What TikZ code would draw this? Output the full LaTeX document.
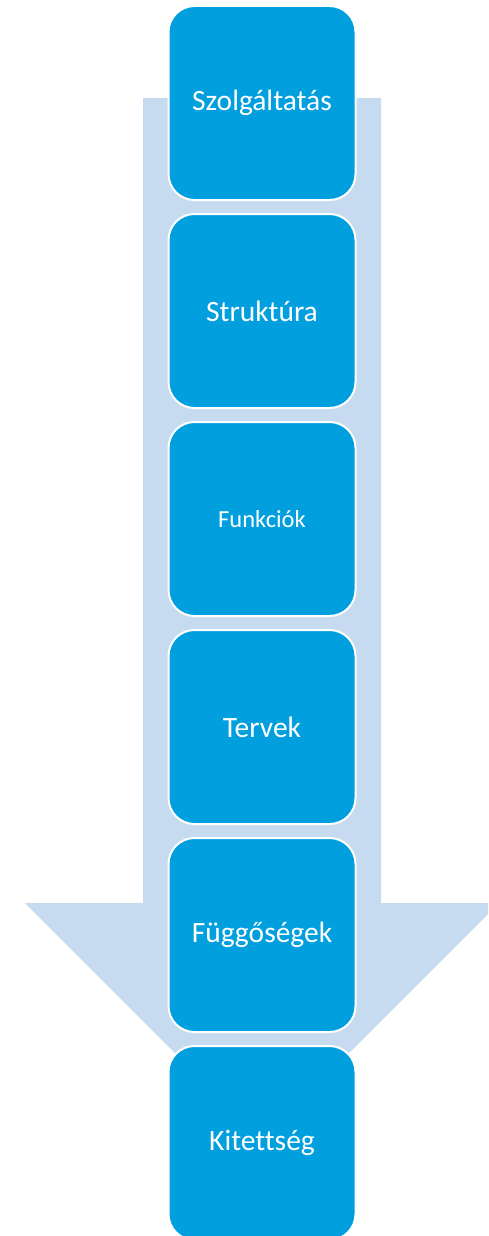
\documentclass[tikz,border=0pt]{standalone}
\usepackage{fontspec}
\setmainfont{Carlito}[Ligatures=NoCommon]
\definecolor{boxblue}{RGB}{2,159,223}
\definecolor{arrowblue}{RGB}{198,219,239}
\tikzset{
  stagebox/.style={draw=white, line width=2pt, fill=boxblue, rounded corners=26pt,
    minimum width=187pt, minimum height=194pt, inner sep=0pt,
    text=white, font=\fontsize{29.5}{34}\selectfont},
  bigarrow/.style={fill=arrowblue}
}
\begin{document}
\begin{tikzpicture}[x=1pt,y=-1pt]
\useasboundingbox (0,0) rectangle (488,1236);
\clip (0,0) rectangle (488,1236);
\fill[bigarrow] (143,98) -- (381,98) -- (381,903) -- (499,903) -- (262,1140) -- (25,903) -- (143,903) -- cycle;
\node[stagebox] (s1) at (262,103) {Szolgáltatás};
\node[stagebox] (s2) at (262,311) {Struktúra};
\node[stagebox, font=\fontsize{24.5}{29}\selectfont] (s3) at (262,519) {Funkciók};
\node[stagebox] (s4) at (262,727) {Tervek};
\node[stagebox] (s5) at (262,935) {Függőségek};
\node[stagebox] (s6) at (262,1143) {Kitettség};
\end{tikzpicture}
\end{document}
